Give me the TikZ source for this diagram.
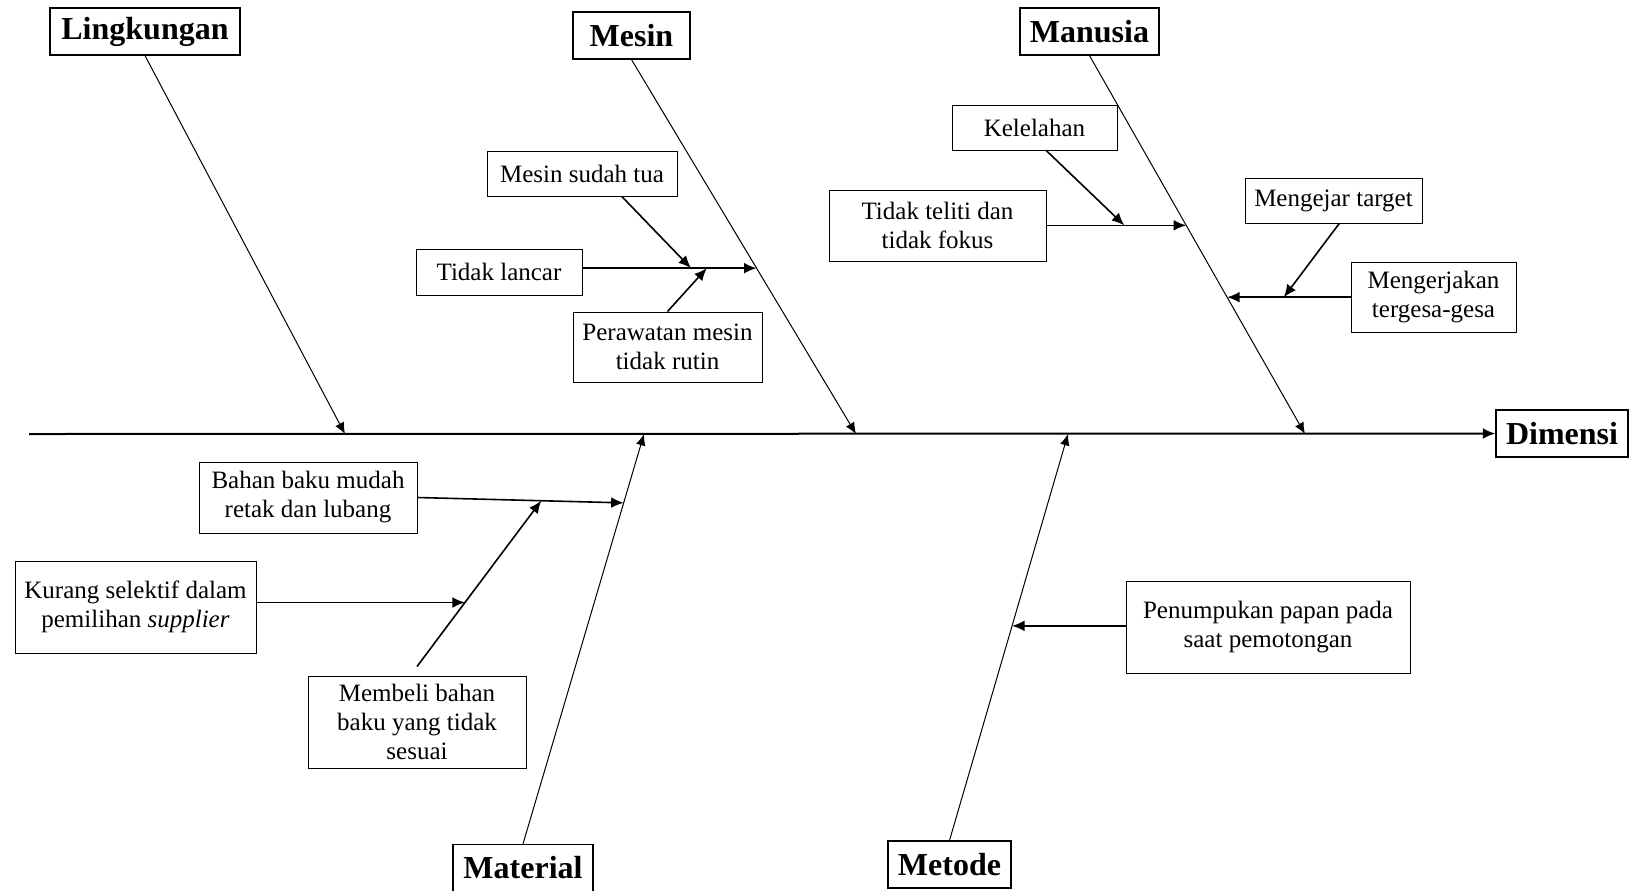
\documentclass[tikz,border=0pt]{standalone}
\usepackage{fontspec}
\setmainfont{Liberation Serif}
\usetikzlibrary{arrows.meta, positioning, calc}

\begin{document}
\begin{tikzpicture}[
    x=0.5pt, y=-0.5pt,
    cause/.style={rectangle, draw, line width=0.6pt, inner sep=0pt, minimum height=23.5pt, font=\fontsize{16}{19}\selectfont\bfseries},
    block/.style={rectangle, draw, line width=0.5pt, inner sep=0pt, align=center, font=\fontsize{12.5}{14.5}\selectfont},
    bone/.style={-{Latex[length=2mm, width=1.7mm]}, line width=0.5pt},
    arrow/.style={-{Latex[length=2.2mm, width=1.9mm]}, line width=0.8pt},
    spine/.style={-{Latex[length=2.2mm, width=1.9mm]}, line width=1pt}
]
\useasboundingbox (0,0) rectangle (1632,890);

\node[cause, minimum width=95pt] (lingkungan) at (145,31.5) {Lingkungan};
\node[cause, minimum width=58.5pt] (mesin) at (631.5,35.5) {Mesin};
\node[cause, minimum width=69.5pt] (manusia) at (1089.5,31.5) {Manusia};
\node[cause, minimum width=66pt] (dimensi) at (1562,433.5) {Dimensi};
\node[cause, minimum width=70pt] (material) at (523,868) {Material};
\node[cause, minimum width=61.5pt] (metode) at (949.5,864.5) {Metode};

\node[block, minimum width=95pt, minimum height=22.5pt] (tua) at (582,173.5) {Mesin sudah tua};
\node[block, minimum width=83pt, minimum height=23pt] (lancar) at (499,272) {Tidak lancar};
\node[block, minimum width=94.5pt, minimum height=35pt] (rawat) at (667.5,347) {Perawatan mesin\\tidak rutin};
\node[block, minimum width=82.5pt, minimum height=22.5pt] (lelah) at (1034.5,127.5) {Kelelahan};
\node[block, minimum width=108.5pt, minimum height=35.5pt] (teliti) at (937.5,225.5) {Tidak teliti dan\\tidak fokus};
\node[block, minimum width=88.5pt, minimum height=22.5pt] (target) at (1333.5,200.5) {Mengejar target};
\node[block, minimum width=82.5pt, minimum height=35pt] (gesa) at (1433.5,297) {Mengerjakan\\tergesa-gesa};
\node[block, minimum width=109pt, minimum height=35.5pt] (retak) at (308,497.5) {Bahan baku mudah\\retak dan lubang};
\node[block, minimum width=120.5pt, minimum height=46pt] (selektif) at (135.5,607) {Kurang selektif dalam\\pemilihan \textit{supplier}};
\node[block, minimum width=109pt, minimum height=46pt] (beli) at (417,722) {Membeli bahan\\baku yang tidak\\sesuai};
\node[block, minimum width=142pt, minimum height=46pt] (tumpuk) at (1268,627) {Penumpukan papan pada\\saat pemotongan};

\coordinate (ekor) at (29,434);
\coordinate (lk) at (345,434);
\coordinate (ms) at (856,434);
\coordinate (mn) at (1305,434);
\coordinate (mt) at (644,434);
\coordinate (md) at (1068,434);

\draw[spine] (ekor) -- (dimensi.west);
\draw[bone] (lingkungan.south) -- (lk);
\draw[bone] (mesin.south) -- (ms);
\draw[bone] (manusia.south) -- (mn);
\draw[bone] (material.north) -- (mt);
\draw[bone] (metode.north) -- (md);

\coordinate (m1) at ($(mesin.south)!0.557!(ms)$);
\coordinate (m1s) at (lancar.east |- m1);
\coordinate (m1a) at ($(m1s)!0.623!(m1)$);
\coordinate (m1b) at ($(m1s)!0.714!(m1)$);
\draw[arrow] (m1s) -- (m1);
\draw[arrow] (tua.330) -- (m1a);
\draw[arrow] (rawat.north) -- (m1b);

\coordinate (h1) at ($(manusia.south)!0.4485!(mn)$);
\coordinate (h1s) at (teliti.east |- h1);
\coordinate (h1a) at ($(h1s)!0.557!(h1)$);
\draw[arrow] (h1s) -- (h1);
\draw[arrow] (lelah.297) -- (h1a);

\coordinate (h2) at ($(manusia.south)!0.6385!(mn)$);
\coordinate (h2s) at (gesa.west |- h2);
\coordinate (h2a) at ($(h2s)!0.54!(h2)$);
\draw[arrow] (h2s) -- (h2);
\draw[arrow] (target.284) -- (h2a);

\coordinate (a1) at ($(material.north)!0.832!(mt)$);
\coordinate (a1a) at ($(retak.east)!0.6!(a1)$);
\coordinate (bpucuk) at ($(beli.north)+(0,-9)$);
\coordinate (a1b) at ($(bpucuk)!0.386!(a1a)$);
\draw[arrow] (retak.east) -- (a1);
\draw[arrow] (bpucuk) -- (a1a);
\draw[arrow] (selektif.east |- a1b) -- (a1b);

\coordinate (d1) at ($(metode.north)!0.528!(md)$);
\draw[arrow] (tumpuk.west |- d1) -- (d1);
\end{tikzpicture}
\end{document}
